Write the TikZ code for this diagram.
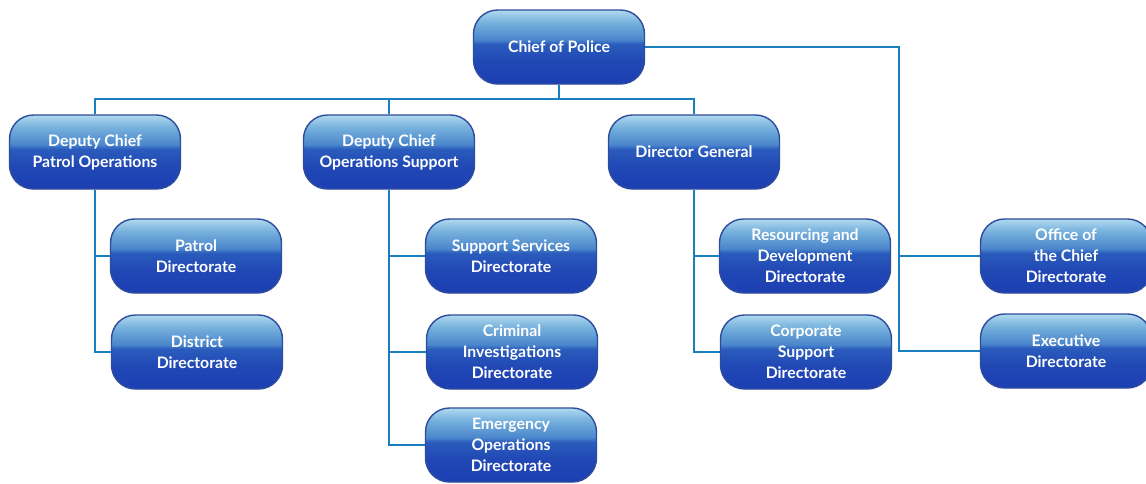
\documentclass[tikz,border=0pt]{standalone}
\usepackage{fontspec}
\setmainfont{Lato}
\usetikzlibrary{backgrounds}
\definecolor{btop}{HTML}{B0DAEE}
\definecolor{bup}{HTML}{78B2DD}
\definecolor{bmid}{HTML}{4A86CC}
\definecolor{bmid2}{HTML}{2A5CBC}
\definecolor{blow}{HTML}{2147B5}
\definecolor{bbot}{HTML}{1C3FB2}
\definecolor{bord}{HTML}{2D4C9E}
\definecolor{linec}{HTML}{1A7FC1}
\pgfdeclareverticalshading{glossy}{100bp}{color(0bp)=(bbot); color(25bp)=(bbot); color(40bp)=(blow); color(52bp)=(bmid2); color(55bp)=(bmid); color(67bp)=(bup); color(75bp)=(btop); color(100bp)=(btop)}
\tikzset{
  box/.style={shading=glossy, draw=bord, line width=1.4pt, rounded corners=24pt,
    minimum width=171pt, minimum height=74pt, text=white, align=center, inner sep=2pt,
    font=\bfseries\fontsize{15.8}{21}\selectfont},
  conn/.style={draw=linec, line width=2.8pt}
}
\begin{document}
\begin{tikzpicture}[x=1pt,y=-1pt]
\useasboundingbox (0,0) rectangle (1146,483);
\node[box] (chief) at (559,47) {Chief of Police};
\node[box] (dpo) at (95,152) {Deputy Chief\\Patrol Operations};
\node[box] (dos) at (389,152) {Deputy Chief\\Operations Support};
\node[box] (dg) at (694,152) {Director General};
\node[box] (patrol) at (196,256) {Patrol\\Directorate};
\node[box] (district) at (197,352) {District\\Directorate};
\node[box] (ssd) at (511,256) {Support Services\\Directorate};
\node[box] (cid) at (512,352) {Criminal\\Investigations\\Directorate};
\node[box] (eod) at (511,445) {Emergency\\Operations\\Directorate};
\node[box] (rdd) at (805,256) {Resourcing and\\Development\\Directorate};
\node[box] (csd) at (806,352) {Corporate\\Support\\Directorate};
\node[box] (ocd) at (1066,256) {Office of\\the Chief\\Directorate};
\node[box] (exd) at (1066,351) {Executive\\Directorate};
\coordinate (bus) at (559,99);
\coordinate (rj) at (899,0);
\begin{scope}[on background layer]
\draw[conn] (chief) -- (bus);
\draw[conn] (dpo.north) |- (bus) -| (dg.north);
\draw[conn] (dos.north) -- (dos.north |- bus);
\draw[conn] (chief.east) -| (rj |- exd.west) -- (exd.west);
\draw[conn] (rj |- ocd.west) -- (ocd.west);
\draw[conn] (dpo.south) |- (district.west);
\draw[conn] (dpo.south |- patrol.west) -- (patrol.west);
\draw[conn] (dos.south) |- (eod.west);
\draw[conn] (dos.south |- ssd.west) -- (ssd.west);
\draw[conn] (dos.south |- cid.west) -- (cid.west);
\draw[conn] (dg.south) |- (csd.west);
\draw[conn] (dg.south |- rdd.west) -- (rdd.west);
\end{scope}
\end{tikzpicture}
\end{document}
